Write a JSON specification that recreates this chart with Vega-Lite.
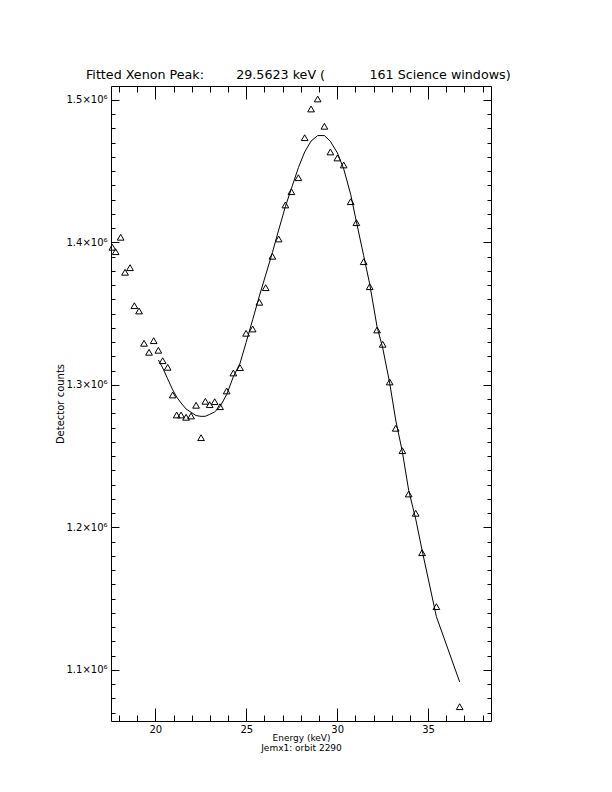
{
  "$schema": "https://vega.github.io/schema/vega-lite/v6.json",
  "autosize": {"type": "none"},
  "padding": {"left": 111, "top": 86, "right": 121, "bottom": 71},
  "width": 380,
  "height": 635,
  "background": "white",
  "config": {
    "view": {"stroke": "black", "strokeWidth": 1},
    "font": "DejaVu Sans",
    "axis": {"grid": false, "domain": false, "labelColor": "black", "titleColor": "black", "labelFont": "DejaVu Sans", "titleFont": "DejaVu Sans", "labelFontSize": 10, "titleFontSize": 10, "titleFontWeight": "normal"}
  },
  "title": {
    "text": "Fitted Xenon Peak:\u00a0\u00a0\u00a0\u00a0\u00a0\u00a0\u00a0\u00a029.5623 keV (\u00a0\u00a0\u00a0\u00a0\u00a0\u00a0\u00a0\u00a0\u00a0\u00a0\u00a0161 Science windows)",
    "anchor": "start", "dx": 30, "offset": 4, "fontSize": 12.7, "fontWeight": "normal", "font": "DejaVu Sans", "color": "black"
  },
  "data": {"values": [
    {"energy": 17.635, "counts": 1396630, "fit": null},
    {"energy": 17.816, "counts": 1393540, "fit": null},
    {"energy": 18.091, "counts": 1403650, "fit": null},
    {"energy": 18.333, "counts": 1379090, "fit": null},
    {"energy": 18.608, "counts": 1382320, "fit": null},
    {"energy": 18.845, "counts": 1355650, "fit": null},
    {"energy": 19.103, "counts": 1351930, "fit": null},
    {"energy": 19.378, "counts": 1329260, "fit": null},
    {"energy": 19.653, "counts": 1322950, "fit": null},
    {"energy": 19.906, "counts": 1331090, "fit": null},
    {"energy": 20.165, "counts": 1324350, "fit": 1317550},
    {"energy": 20.402, "counts": 1317050, "fit": 1312000},
    {"energy": 20.677, "counts": 1312420, "fit": 1304280},
    {"energy": 20.952, "counts": 1292980, "fit": 1296630},
    {"energy": 21.172, "counts": 1278950, "fit": 1291510},
    {"energy": 21.414, "counts": 1278950, "fit": 1287370},
    {"energy": 21.689, "counts": 1277330, "fit": 1283160},
    {"energy": 21.964, "counts": 1278250, "fit": 1280840},
    {"energy": 22.239, "counts": 1285760, "fit": 1278530},
    {"energy": 22.514, "counts": 1263020, "fit": 1277970},
    {"energy": 22.750, "counts": 1288560, "fit": 1278040},
    {"energy": 22.987, "counts": 1286180, "fit": 1279370},
    {"energy": 23.262, "counts": 1288280, "fit": 1281120},
    {"energy": 23.559, "counts": 1284770, "fit": 1284840},
    {"energy": 23.922, "counts": 1295790, "fit": 1293330},
    {"energy": 24.290, "counts": 1308420, "fit": 1305820},
    {"energy": 24.659, "counts": 1312140, "fit": 1315300},
    {"energy": 24.989, "counts": 1336280, "fit": 1329750},
    {"energy": 25.352, "counts": 1339300, "fit": 1345830},
    {"energy": 25.721, "counts": 1358040, "fit": 1362460},
    {"energy": 26.067, "counts": 1368280, "fit": 1377190},
    {"energy": 26.436, "counts": 1390320, "fit": 1392910},
    {"energy": 26.782, "counts": 1402460, "fit": 1408770},
    {"energy": 27.151, "counts": 1426320, "fit": 1425190},
    {"energy": 27.481, "counts": 1435650, "fit": 1437830},
    {"energy": 27.866, "counts": 1445470, "fit": 1452490},
    {"energy": 28.212, "counts": 1473540, "fit": 1463510},
    {"energy": 28.564, "counts": 1493680, "fit": 1471160},
    {"energy": 28.927, "counts": 1500700, "fit": 1475020},
    {"energy": 29.296, "counts": 1481540, "fit": 1475020},
    {"energy": 29.626, "counts": 1463510, "fit": 1470950},
    {"energy": 30.011, "counts": 1459300, "fit": 1462880},
    {"energy": 30.358, "counts": 1454390, "fit": 1451650},
    {"energy": 30.743, "counts": 1428630, "fit": 1433680},
    {"energy": 31.056, "counts": 1413890, "fit": 1414600},
    {"energy": 31.458, "counts": 1386530, "fit": 1390670},
    {"energy": 31.788, "counts": 1368980, "fit": 1370880},
    {"energy": 32.195, "counts": 1338600, "fit": 1340710},
    {"energy": 32.503, "counts": 1328560, "fit": 1326000},
    {"energy": 32.888, "counts": 1302110, "fit": 1301400},
    {"energy": 33.218, "counts": 1269610, "fit": 1275440},
    {"energy": 33.586, "counts": 1253900, "fit": 1253000},
    {"energy": 33.933, "counts": 1223510, "fit": 1226000},
    {"energy": 34.318, "counts": 1209960, "fit": 1206000},
    {"energy": 34.670, "counts": 1182320, "fit": 1184000},
    {"energy": 35.457, "counts": 1144430, "fit": 1137410},
    {"energy": 36.738, "counts": 1074250, "fit": 1091580}
  ]},
  "resolve": {"axis": {"x": "independent", "y": "independent"}},
  "layer": [
    {
      "mark": {"type": "point", "shape": "triangle-up", "filled": false, "stroke": "black", "strokeWidth": 1, "size": 45, "opacity": 1},
      "encoding": {
        "x": {"field": "energy", "type": "quantitative",
              "scale": {"domain": [17.56, 38.46], "nice": false, "zero": false},
              "axis": {"orient": "bottom", "values": [20, 25, 30, 35], "ticks": true, "tickColor": "black", "tickWidth": 1, "offset": -13, "tickSize": 13, "labelPadding": 3, "title": ["Energy (keV)", "Jemx1: orbit 2290"], "titleFontSize": 9, "titlePadding": -1, "titleLineHeight": 10}},
        "y": {"field": "counts", "type": "quantitative",
              "scale": {"domain": [1064200, 1509800], "nice": false, "zero": false},
              "axis": {"orient": "left", "values": [1100000, 1200000, 1300000, 1400000, 1500000], "ticks": true, "tickColor": "black", "tickWidth": 1, "offset": -8, "tickSize": 8, "labelPadding": 4, "labelExpr": "format(datum.value/1000000, '.1f') + '×10⁶'", "title": "Detector counts", "titlePadding": 0}}
      }
    },
    {
      "transform": [{"filter": "datum.fit != null"}],
      "mark": {"type": "line", "color": "black", "strokeWidth": 1},
      "encoding": {
        "x": {"field": "energy", "type": "quantitative",
              "axis": {"orient": "bottom", "values": [18, 19, 21, 22, 23, 24, 26, 27, 28, 29, 31, 32, 33, 34, 36, 37, 38], "ticks": true, "tickColor": "black", "tickWidth": 1, "offset": -6, "tickSize": 6, "labels": false, "title": null}},
        "y": {"field": "fit", "type": "quantitative",
              "axis": {"orient": "left", "values": [1070000, 1080000, 1090000, 1110000, 1120000, 1130000, 1140000, 1150000, 1160000, 1170000, 1180000, 1190000, 1210000, 1220000, 1230000, 1240000, 1250000, 1260000, 1270000, 1280000, 1290000, 1310000, 1320000, 1330000, 1340000, 1350000, 1360000, 1370000, 1380000, 1390000, 1410000, 1420000, 1430000, 1440000, 1450000, 1460000, 1470000, 1480000, 1490000], "ticks": true, "tickColor": "black", "tickWidth": 1, "offset": -4, "tickSize": 4, "labels": false, "title": null}}
      }
    },
    {
      "mark": {"type": "point", "opacity": 0},
      "encoding": {
        "x": {"field": "energy", "type": "quantitative",
              "axis": {"orient": "top", "values": [20, 25, 30, 35], "ticks": true, "tickColor": "black", "tickWidth": 1, "offset": -13, "tickSize": 13, "labels": false, "title": null}},
        "y": {"field": "counts", "type": "quantitative",
              "axis": {"orient": "right", "values": [1100000, 1200000, 1300000, 1400000, 1500000], "ticks": true, "tickColor": "black", "tickWidth": 1, "offset": -8, "tickSize": 8, "labels": false, "title": null}}
      }
    },
    {
      "mark": {"type": "point", "opacity": 0},
      "encoding": {
        "x": {"field": "energy", "type": "quantitative",
              "axis": {"orient": "top", "values": [18, 19, 21, 22, 23, 24, 26, 27, 28, 29, 31, 32, 33, 34, 36, 37, 38], "ticks": true, "tickColor": "black", "tickWidth": 1, "offset": -6, "tickSize": 6, "labels": false, "title": null}},
        "y": {"field": "counts", "type": "quantitative",
              "axis": {"orient": "right", "values": [1070000, 1080000, 1090000, 1110000, 1120000, 1130000, 1140000, 1150000, 1160000, 1170000, 1180000, 1190000, 1210000, 1220000, 1230000, 1240000, 1250000, 1260000, 1270000, 1280000, 1290000, 1310000, 1320000, 1330000, 1340000, 1350000, 1360000, 1370000, 1380000, 1390000, 1410000, 1420000, 1430000, 1440000, 1450000, 1460000, 1470000, 1480000, 1490000], "ticks": true, "tickColor": "black", "tickWidth": 1, "offset": -4, "tickSize": 4, "labels": false, "title": null}}
      }
    }
  ]
}
